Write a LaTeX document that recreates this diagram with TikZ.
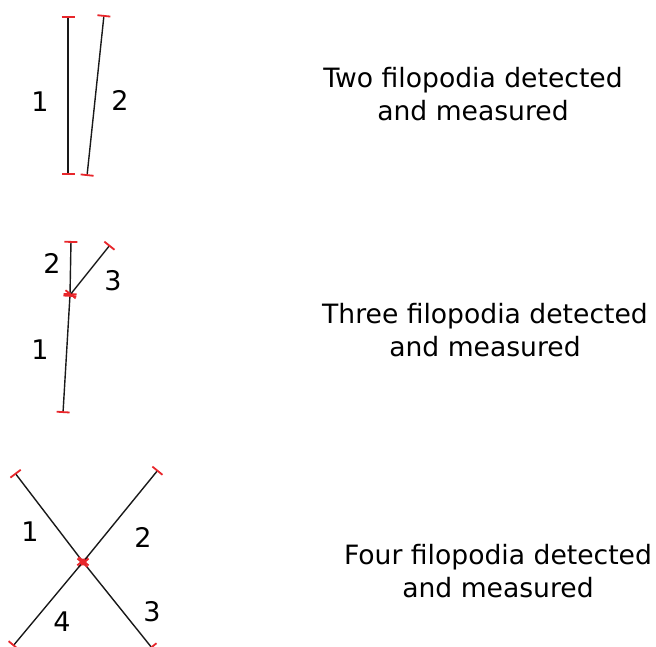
\documentclass[tikz,border=0pt]{standalone}
\usepackage{fontspec}
\setmainfont{DejaVu Sans}
\usetikzlibrary{positioning,arrows.meta,calc}
\definecolor{tickred}{HTML}{E8262B}

\begin{document}
\begin{tikzpicture}[x=1pt,y=-1pt,
        filo/.style={line width=1.4pt, black!90, {Bar[tickred,width=13pt,line width=1.8pt]}-{Bar[tickred,width=13pt,line width=1.8pt]}},
        num/.style={font=\fontsize{27}{30}\selectfont, inner sep=0pt},
        caption/.style={font=\fontsize{26.6}{33}\selectfont, align=center, inner sep=0pt},
      ]
        \useasboundingbox (0,0) rectangle (656,647);
        % Two filopodia
        \coordinate (a1) at (68,16);
        \coordinate (a2) at (68,175);
        \coordinate (b1) at (104,15);
        \coordinate (b2) at (87,176);
        \draw[filo] (a1) -- (a2);
        \draw[filo] (b1) -- (b2);
        \node[num] (n1) at (40,102) {1};
        \node[num] (n2) at (120,100) {2};
        \node[caption] (two) at (473,94) {Two filopodia detected\\and measured};
        % Three filopodia
        \coordinate (j) at (70,295);
        \coordinate (c1) at (63,413);
        \coordinate (c2) at (71,241);
        \coordinate (c3) at (110,245);
        \draw[filo] (c1) -- (j);
        \draw[filo] (j) -- (c2);
        \draw[filo] (j) -- (c3);
        \node[num] (m1) at (40,350) {1};
        \node[num] (m2) at (52,263) {2};
        \node[num] (m3) at (113,281) {3};
        \node[caption] (three) at (485,330) {Three filopodia detected\\and measured};
        % Four filopodia
        \coordinate (x) at (83,562);
        \coordinate (d1) at (15,473);
        \coordinate (d2) at (158,470);
        \coordinate (d3) at (152,648);
        \coordinate (d4) at (13,646);
        \draw[filo] (d1) -- (x);
        \draw[filo] (d2) -- (x);
        \draw[filo] (x) -- (d3);
        \draw[filo] (x) -- (d4);
        \fill[tickred] (x) circle (3.5pt);
        \node[num] (k1) at (30,532) {1};
        \node[num] (k2) at (143,537) {2};
        \node[num] (k3) at (152,612) {3};
        \node[num] (k4) at (62,622) {4};
        \node[caption] (four) at (498,571) {Four filopodia detected\\and measured};
      \end{tikzpicture}
\end{document}
